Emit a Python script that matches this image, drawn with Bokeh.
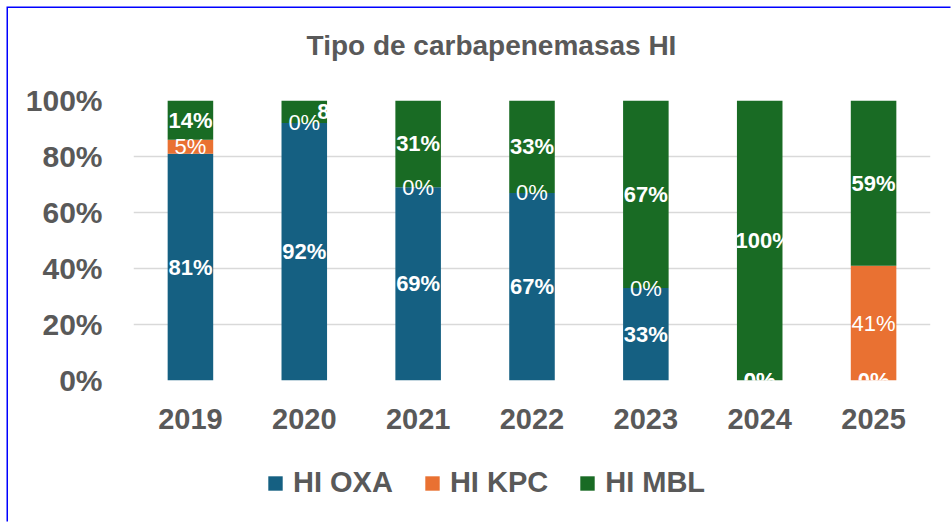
from bokeh.plotting import figure
from bokeh.layouts import column
from bokeh.models import (ColumnDataSource, Range1d, FactorRange, NumeralTickFormatter,
                          Legend, LegendItem, Label)
from bokeh.core.properties import value
from bokeh.embed import file_html
from bokeh.resources import INLINE

years = ["2019", "2020", "2021", "2022", "2023", "2024", "2025"]
hi_oxa = [81, 92, 69, 67, 33, 0, 0]
hi_kpc = [5, 0, 0, 0, 0, 0, 41]
hi_mbl = [14, 8, 31, 33, 67, 100, 59]
series_names = ["HI OXA", "HI KPC", "HI MBL"]
colors = ["#156082", "#E97132", "#196B24"]
title_text = "Tipo de carbapenemasas HI"

FONT = "Liberation Sans"
GRAY = "#595959"

src = ColumnDataSource(dict(
    years=years,
    oxa=[v / 100 for v in hi_oxa],
    kpc=[v / 100 for v in hi_kpc],
    mbl=[v / 100 for v in hi_mbl],
))

# title strip
tf = figure(width=944, height=60, x_range=Range1d(0, 944), y_range=Range1d(0, 60),
            output_backend="svg", toolbar_location=None, min_border=0)
tf.axis.visible = False
tf.grid.visible = False
tf.outline_line_color = None
tf.add_layout(Label(x=424, y=23, text=title_text, text_align="center", text_baseline="middle",
                    text_font=FONT, text_font_size="28px", text_font_style="bold",
                    text_color=GRAY))

# main chart
p = figure(width=944, height=380, x_range=FactorRange(*years, range_padding=0),
           y_range=Range1d(0, 1), output_backend="svg", toolbar_location=None)
p.min_border_left = 125
p.min_border_right = 22
p.min_border_top = 32
p.min_border_bottom = 68
p.outline_line_color = None

renderers = p.vbar_stack(["oxa", "kpc", "mbl"], x="years", width=0.4, source=src,
                         color=colors, line_color=None)

# data labels
def add_labels(vals, bases, bold, xoffs=None, texts=None):
    xs, ys, ts = [], [], []
    for i, y in enumerate(years):
        xs.append(y)
        ys.append((bases[i] + vals[i] / 2) / 100)
        ts.append(texts[i] if texts else f"{vals[i]}%")
    s = ColumnDataSource(dict(x=xs, y=ys, t=ts, xo=xoffs or [0] * len(xs)))
    p.text(x="x", y="y", text="t", source=s, x_offset="xo",
           text_align="center", text_baseline="middle", text_color="white",
           text_font=value(FONT), text_font_size="22px",
           text_font_style="bold" if bold else "normal")

zeros = [0] * len(years)
add_labels(hi_oxa, zeros, True)
add_labels(hi_kpc, hi_oxa, False)
mbl_base = [a + b for a, b in zip(hi_oxa, hi_kpc)]
mbl_texts = [f"{v}%" for v in hi_mbl]
mbl_texts[1] = "8"
mbl_x = [0, 19, 0, 0, 0, 4, 0]
add_labels(hi_mbl, mbl_base, True, xoffs=mbl_x, texts=mbl_texts)

# axes
p.yaxis.formatter = NumeralTickFormatter(format="0%")
p.yaxis.ticker = [0, 0.2, 0.4, 0.6, 0.8, 1.0]
for ax in (p.xaxis, p.yaxis):
    ax.axis_line_color = None
    ax.major_tick_line_color = None
    ax.minor_tick_line_color = None
    ax.major_tick_out = 0
    ax.major_tick_in = 0
    ax.major_label_text_font = FONT
    ax.major_label_text_font_size = "29px"
    ax.major_label_text_font_style = "bold"
    ax.major_label_text_color = GRAY
p.yaxis.major_label_text_font_size = "30px"
p.yaxis.major_label_standoff = 31
p.xaxis.major_label_standoff = 28
p.xgrid.grid_line_color = None
p.ygrid.grid_line_color = "#D9D9D9"
p.ygrid.grid_line_width = 1.5

# legend strip (separate figure so the legend is not clipped by the plot frame)
lg = figure(width=944, height=75, x_range=FactorRange(*years, range_padding=0),
            y_range=Range1d(10, 11), output_backend="svg", toolbar_location=None,
            min_border=0)
lg.axis.visible = False
lg.grid.visible = False
lg.outline_line_color = None
lg_renderers = lg.vbar_stack(["oxa", "kpc", "mbl"], x="years", width=0.4, source=src,
                             color=colors, line_color=None)
legend = Legend(items=[LegendItem(label=n, renderers=[r]) for n, r in zip(series_names, lg_renderers)],
                location=(133, 24), orientation="horizontal")
legend.border_line_color = None
legend.background_fill_alpha = 0
legend.padding = 0
legend.margin = 0
legend.spacing = 30
legend.glyph_width = 18
legend.glyph_height = 18
legend.label_standoff = 9
legend.label_text_font = FONT
legend.label_text_font_size = "29px"
legend.label_text_font_style = "bold"
legend.label_text_color = GRAY
lg.add_layout(legend, "center")

layout = column(tf, p, lg, spacing=0)
layout.margin = (8, 0, 0, 8)
layout.styles = {"box-shadow": "-1.5px -1.5px 0 0 #0000FF"}

open("out.html", "w").write(file_html(layout, INLINE))
